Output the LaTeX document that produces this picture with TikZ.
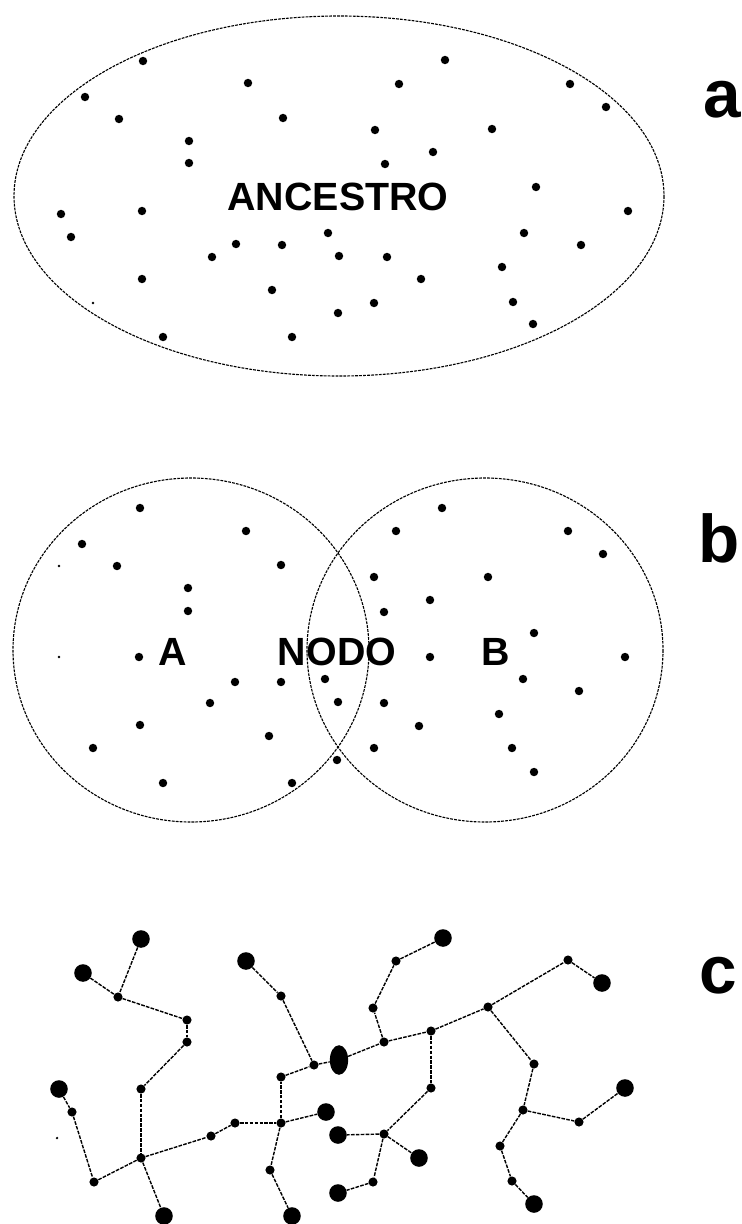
\documentclass[tikz,border=0pt]{standalone}
\usepackage{fontspec}
\setmainfont{Liberation Sans}
\usetikzlibrary{positioning,shapes.geometric}

\begin{document}
\begin{tikzpicture}[
  x=0.025cm, y=-0.025cm,
  pt/.style={circle,fill=black,inner sep=0pt,minimum size=6pt},
  speck/.style={circle,fill=black,inner sep=0pt,minimum size=1.8pt},
  knot/.style={circle,fill=black,inner sep=0pt,minimum size=6.5pt},
  leaf/.style={circle,fill=black,inner sep=0pt,minimum size=12.5pt},
  rim/.style={line width=0.8pt,dash pattern=on 2pt off 0.8pt},
  edge/.style={line width=1pt,dash pattern=on 2.6pt off 0.9pt},
  lbl/.style={font=\fontsize{28}{30}\selectfont\bfseries,inner sep=0pt},
  tag/.style={font=\fontsize{48}{50}\selectfont\bfseries,inner sep=0pt}
]
  \useasboundingbox (0,0) rectangle (742,1224);

  \draw[rim] (339,196) ellipse [x radius=325, y radius=180];
  \foreach \px/\py [count=\i] in {143/61,248/83,85/97,119/119,283/118,189/141,189/163,
      61/214,142/211,71/237,328/233,236/244,282/245,212/257,339/256,142/279,272/290,
      338/313,163/337,292/337,445/60,399/84,570/84,606/107,375/130,492/129,433/152,
      385/164,536/187,628/211,524/233,581/245,387/257,421/279,502/267,374/303,513/302,533/324}
    \node[pt] (a\i) at (\px,\py) {};
  \node[speck] (aspeck) at (93,303) {};
  \node[lbl] (ancestro) at (338,197) {ANCESTRO};
  \node[tag] (taga) at (722,100) {a};

  \draw[rim] (191,650) ellipse [x radius=178, y radius=172];
  \draw[rim] (485,650) ellipse [x radius=178, y radius=172];
  \foreach \px/\py [count=\i] in {140/508,246/531,82/544,117/566,281/565,188/588,188/611,
      139/657,325/679,235/682,281/682,210/703,338/702,140/725,269/736,93/748,337/760,
      163/783,292/783,442/508,396/531,568/531,603/554,374/577,488/577,430/600,384/612,
      534/633,430/657,625/657,523/679,579/691,384/703,499/714,419/726,374/748,512/748,534/772}
    \node[pt] (b\i) at (\px,\py) {};
  \node[speck] (bspeck1) at (59,566) {};
  \node[speck] (bspeck2) at (59,657) {};
  \node[lbl] (setA) at (173,652) {A};
  \node[lbl] (nodo) at (337,652) {NODO};
  \node[lbl] (setB) at (496,652) {B};
  \node[tag] (tagb) at (719,538) {b};

  \foreach \n/\px/\py in {l1/141/939,l2/83/973,l3/59/1089,l4/164/1216,l5/326/1112,
      l6/292/1216,l8/246/961,l9/338/1135,l10/338/1193,l11/443/938,l12/602/983,
      l13/625/1088,l14/534/1204,l15/419/1158}
    \node[leaf] (\n) at (\px,\py) {};
  \node[ellipse,fill=black,inner sep=0pt,minimum width=13pt,minimum height=21pt] (l7) at (339,1060) {};
  \foreach \n/\px/\py in {k1/118/997,k2/187/1020,k3/187/1042,k4/141/1089,k5/72/1112,
      k6/94/1182,k7/141/1158,k8/211/1136,k9/235/1123,k10/281/1123,k11/270/1170,
      k12/281/1077,k13/314/1065,k14/281/996,k15/396/961,k16/373/1008,k17/384/1042,
      k18/431/1031,k19/488/1007,k20/568/960,k21/534/1064,k22/523/1110,k23/579/1122,
      k24/500/1146,k25/512/1181,k26/431/1088,k27/384/1134,k28/373/1182}
    \node[knot] (\n) at (\px,\py) {};
  \node[speck] (cspeck) at (57,1138) {};
  \foreach \u/\v in {l1/k1,l2/k1,k1/k2,k2/k3,k3/k4,k4/k7,l3/k5,k5/k6,k6/k7,k7/l4,
      k7/k8,k8/k9,k9/k10,k10/l5,k10/k12,k10/k11,k11/l6,k12/k13,l8/k14,k14/k13,k13/l7,
      l7/k17,k17/k16,k16/k15,k15/l11,k17/k18,k18/k19,k19/k20,k20/l12,k19/k21,k21/k22,
      k22/k23,k23/l13,k22/k24,k24/k25,k25/l14,k18/k26,k26/k27,k27/l9,k27/l15,k27/k28,k28/l10}
    \draw[edge] (\u) -- (\v);
  \node[tag] (tagc) at (718,976) {c};
\end{tikzpicture}
\end{document}
